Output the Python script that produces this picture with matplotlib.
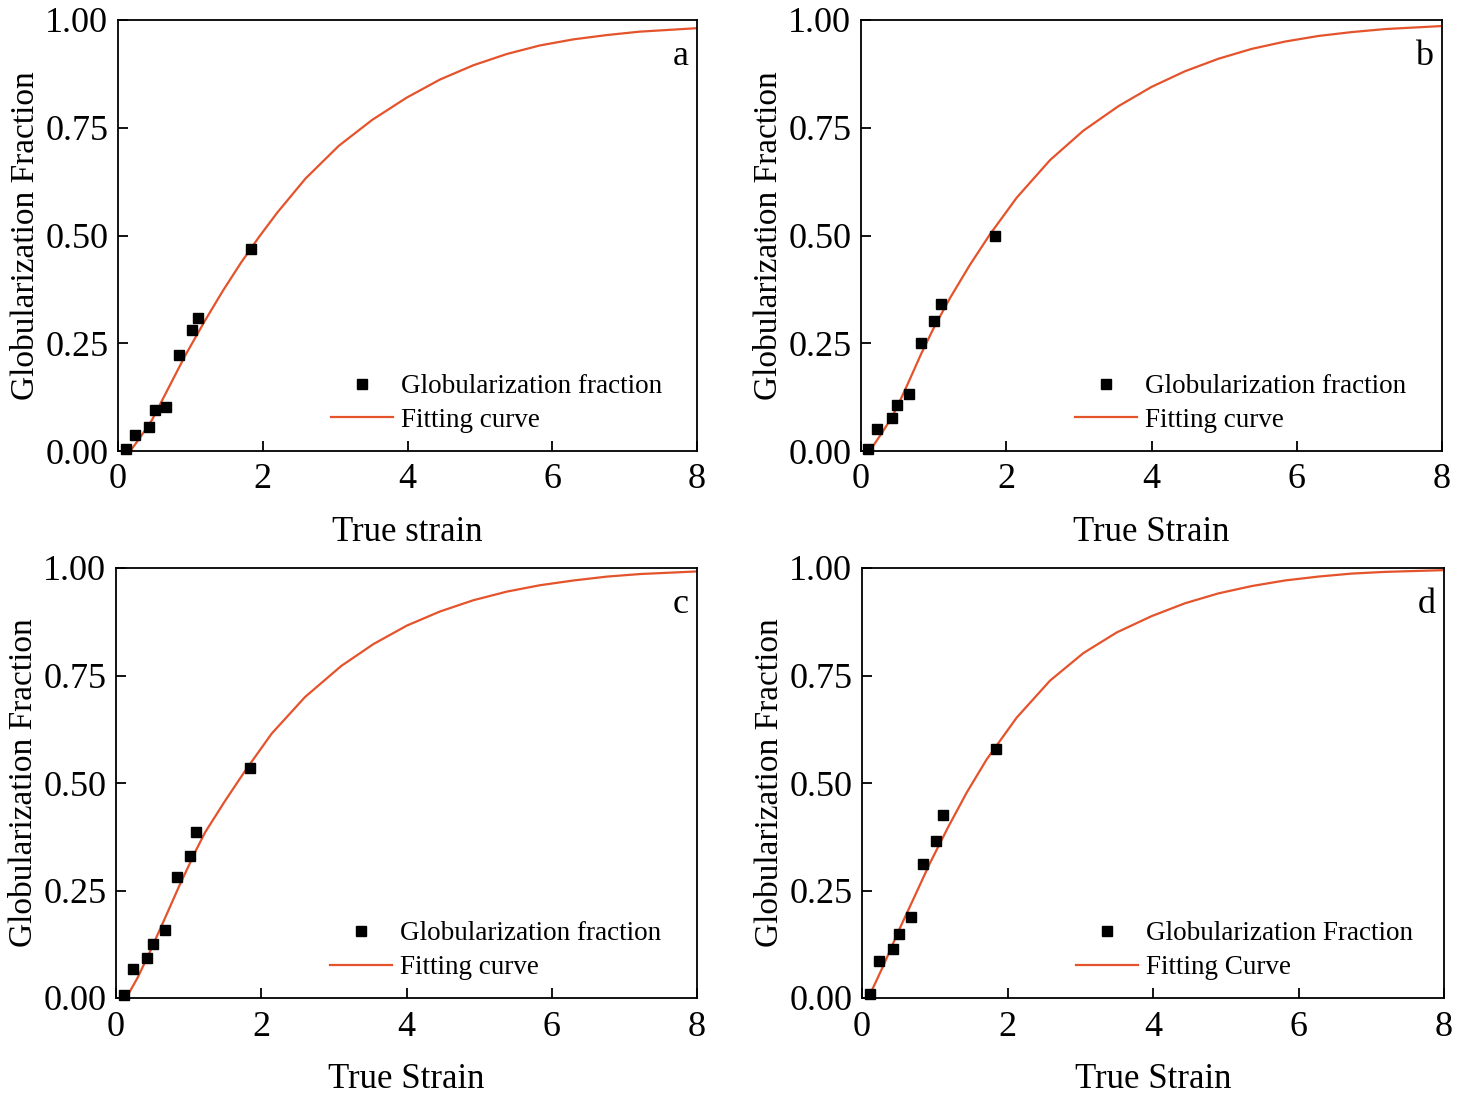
#!/usr/bin/env python3
"""Globularization fraction vs true strain, four panels (a-d) with fitted curves."""

import matplotlib

matplotlib.use("Agg")
import matplotlib.pyplot as plt

plt.rcParams["font.family"] = ["Liberation Serif", "DejaVu Serif"]

strain_a = [0.11, 0.23, 0.43, 0.51, 0.67, 0.84, 1.02, 1.11, 1.84]
frac_a = [0.005, 0.038, 0.055, 0.094, 0.103, 0.223, 0.280, 0.308, 0.468]

strain_b = [0.10, 0.225, 0.42, 0.50, 0.66, 0.83, 1.005, 1.10, 1.84]
frac_b = [0.005, 0.050, 0.077, 0.107, 0.132, 0.250, 0.301, 0.342, 0.500]

strain_c = [0.11, 0.234, 0.43, 0.515, 0.67, 0.84, 1.02, 1.106, 1.84]
frac_c = [0.007, 0.067, 0.092, 0.126, 0.157, 0.281, 0.331, 0.385, 0.534]

strain_d = [0.106, 0.234, 0.43, 0.513, 0.673, 0.843, 1.017, 1.109, 1.846]
frac_d = [0.009, 0.085, 0.115, 0.149, 0.188, 0.312, 0.365, 0.425, 0.579]

# fitted curves, points
fit_x_a = [0.17, 0.30, 0.47, 0.70, 0.93, 1.20, 1.45, 1.70, 1.95, 2.20, 2.59,
           3.05, 3.51, 3.99, 4.45, 4.91, 5.37, 5.83, 6.29, 6.75, 7.21, 8.0]
fit_y_a = [0.0, 0.030, 0.072, 0.147, 0.222, 0.302, 0.372, 0.437, 0.497, 0.553,
           0.632, 0.708, 0.768, 0.820, 0.862, 0.895, 0.921, 0.941, 0.955,
           0.965, 0.973, 0.981]

fit_x_b = [0.12, 0.30, 0.42, 0.50, 0.65, 0.83, 1.00, 1.226, 1.50, 1.777, 2.145,
           2.603, 3.06, 3.544, 4.003, 4.46, 4.92, 5.38, 5.84, 6.30, 6.76,
           7.22, 8.0]
fit_y_b = [0.0, 0.045, 0.077, 0.103, 0.158, 0.226, 0.285, 0.355, 0.432, 0.503,
           0.588, 0.675, 0.743, 0.800, 0.845, 0.881, 0.910, 0.933, 0.950,
           0.963, 0.972, 0.979, 0.986]

fit_x_c = [0.14, 0.30, 0.46, 0.67, 0.877, 1.106, 1.226, 1.50, 1.777, 2.144,
           2.603, 3.10, 3.544, 4.004, 4.463, 4.92, 5.38, 5.84, 6.30, 6.76,
           7.22, 8.0]
fit_y_c = [0.0, 0.048, 0.105, 0.184, 0.263, 0.345, 0.385, 0.458, 0.528, 0.615,
           0.700, 0.772, 0.823, 0.866, 0.899, 0.925, 0.945, 0.960, 0.971,
           0.980, 0.986, 0.992]

fit_x_d = [0.087, 0.293, 0.50, 0.728, 0.935, 1.186, 1.44, 1.714, 1.99, 2.126,
           2.584, 3.042, 3.50, 3.98, 4.44, 4.90, 5.357, 5.814, 6.27, 6.73,
           7.19, 8.0]
fit_y_d = [0.0, 0.075, 0.155, 0.238, 0.314, 0.398, 0.478, 0.555, 0.620, 0.652,
           0.738, 0.802, 0.850, 0.888, 0.918, 0.941, 0.958, 0.971, 0.980,
           0.987, 0.991, 0.995]

panel_tags = ["a", "b", "c", "d"]
x_labels = ["True strain", "True Strain", "True Strain", "True Strain"]
point_labels = ["Globularization fraction", "Globularization fraction",
                "Globularization fraction", "Globularization Fraction"]
curve_labels = ["Fitting curve", "Fitting curve", "Fitting curve", "Fitting Curve"]
y_label = "Globularization Fraction"
x_ticks = [0, 2, 4, 6, 8]
y_ticks = [0.0, 0.25, 0.5, 0.75, 1.0]

FIT_COLOR = "#E4532B"

W, H = 1459, 1103
# axes boxes in pixels: left, top, right, bottom
boxes = [
    (118, 20, 697, 451),
    (861, 20, 1442, 451),
    (116, 568, 697, 998),
    (862, 568, 1444, 998),
]


def main() -> None:
    fig = plt.figure(figsize=(W / 100, H / 100), dpi=100)

    points = [(strain_a, frac_a), (strain_b, frac_b),
              (strain_c, frac_c), (strain_d, frac_d)]
    fits = [(fit_x_a, fit_y_a), (fit_x_b, fit_y_b),
            (fit_x_c, fit_y_c), (fit_x_d, fit_y_d)]

    for i, (l, t, r, b) in enumerate(boxes):
        ax = fig.add_axes([l / W, 1 - b / H, (r - l) / W, (b - t) / H])
        px, py = points[i]
        fx, fy = fits[i]

        ax.plot(px, py, "s", color="black", markersize=7.5,
                label=point_labels[i], zorder=3, clip_on=False)
        ax.plot(fx, fy, "-", color=FIT_COLOR, linewidth=1.6,
                label=curve_labels[i], zorder=2,
                solid_joinstyle="round")

        ax.set_xlim(0, 8)
        ax.set_ylim(0, 1.0)
        ax.set_xticks(x_ticks)
        ax.set_yticks(y_ticks)
        ax.set_yticklabels([f"{v:.2f}" for v in y_ticks])

        ax.tick_params(direction="in", length=7, width=1.3,
                       labelsize=26, top=False, right=False)
        ax.tick_params(axis="x", pad=9)
        ax.tick_params(axis="y", pad=7)
        for sp in ax.spines.values():
            sp.set_linewidth(1.3)

        ax.set_xlabel(x_labels[i], fontsize=25, labelpad=14)
        ax.set_ylabel(y_label, fontsize=24, labelpad=3)

        ax.text(0.985, 0.915, panel_tags[i], transform=ax.transAxes,
                fontsize=26, ha="right", va="center")

        ax.legend(loc="upper left", bbox_to_anchor=(0.368, 0.178),
                  frameon=False, fontsize=19.5, borderpad=0, borderaxespad=0,
                  handlelength=2.3, handletextpad=0.28, labelspacing=0.32,
                  markerscale=1.0)

    fig.savefig("out.png", dpi=100)
    plt.close(fig)


if __name__ == "__main__":
    main()
